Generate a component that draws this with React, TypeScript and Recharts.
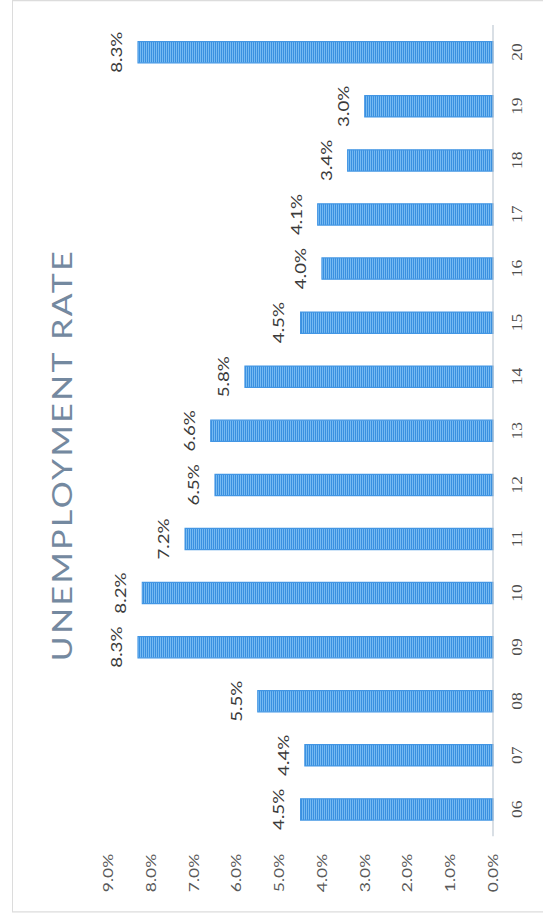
import React from "react";
import { Bar, BarChart, LabelList, XAxis, YAxis } from "recharts";

const years = ["06", "07", "08", "09", "10", "11", "12", "13", "14", "15", "16", "17", "18", "19", "20"];
const rates = [4.5, 4.4, 5.5, 8.3, 8.2, 7.2, 6.5, 6.6, 5.8, 4.5, 4.0, 4.1, 3.4, 3.0, 8.3];
const rateTicks = [0, 1, 2, 3, 4, 5, 6, 7, 8, 9];

const data = years.map((year, i) => ({ year, rate: rates[i] }));

const pct = (v: unknown) => `${Number(v).toFixed(1)}%`;

// the scan is turned a quarter left and a little stretched along the categories
const STRETCH = 1.25;
const W = 730;
const H = 540;

export default function App() {
  return (
    <div style={{ position: "absolute", left: 0, top: 0, width: 543, height: 919, overflow: "hidden", background: "#fff" }}>
      <div
        style={{
          position: "absolute",
          left: 12,
          top: 0,
          width: W,
          height: H,
          boxSizing: "border-box",
          border: "1px solid #dcdcdc",
          transformOrigin: "0 0",
          transform: `translate(0px, ${W * STRETCH}px) rotate(-90deg) scaleX(${STRETCH})`,
          fontFamily: "Lato, 'Open Sans', sans-serif",
        }}
      >
        <div
          style={{
            position: "absolute",
            left: 0,
            top: 34,
            width: W,
            textAlign: "center",
            fontSize: 27,
            lineHeight: "30px",
            letterSpacing: 2,
            color: "#7489a0",
          }}
        >
          UNEMPLOYMENT RATE
        </div>
        <BarChart
          width={W - 2}
          height={531}
          data={data}
          margin={{ top: 95, right: 19, bottom: 0, left: 0 }}
          style={{ position: "absolute", left: 0, top: 0 }}
        >
          <defs>
            <pattern id="stripes" patternUnits="userSpaceOnUse" width={4} height={2}>
              <rect x={0} y={0} width={4} height={2} fill="#76baf2" />
              <rect x={0} y={0} width={4} height={1} fill="#3a90e0" />
            </pattern>
          </defs>
          <XAxis
            dataKey="year"
            height={51}
            axisLine={{ stroke: "#b4bfcc" }}
            tickLine={false}
            tickSize={0}
            tickMargin={19}
            tick={{ fill: "#4d4d4d", fontSize: 14, fontFamily: "'Liberation Serif', serif" }}
            interval={0}
          />
          <YAxis
            width={60}
            domain={[0, 9]}
            ticks={rateTicks}
            axisLine={false}
            tickLine={false}
            tickSize={0}
            tickMargin={14}
            tickFormatter={pct}
            tick={{ fill: "#595959", fontSize: 14 }}
          />
          <Bar dataKey="rate" barSize={17} fill="url(#stripes)" stroke="#4396e4" strokeWidth={1} isAnimationActive={false}>
            <LabelList dataKey="rate" position="top" offset={16} formatter={pct} fill="#3a3a3a" fontSize={15} />
          </Bar>
        </BarChart>
      </div>
    </div>
  );
}
